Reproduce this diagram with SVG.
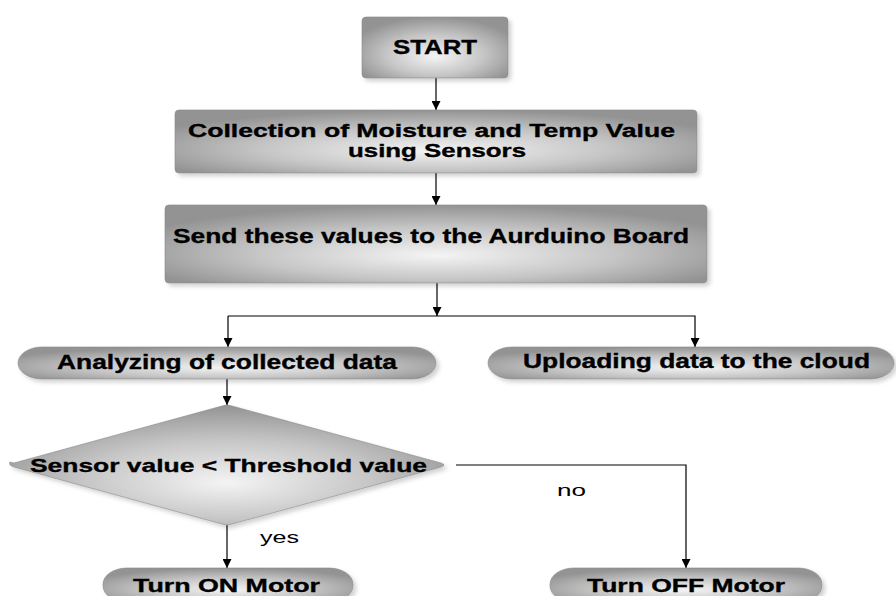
<svg xmlns="http://www.w3.org/2000/svg" width="896" height="596" viewBox="0 0 896 596">
  <defs>
    <radialGradient id="g" cx="0.5" cy="0.6" r="0.6" fx="0.5" fy="0.65">
      <stop offset="0" stop-color="#f4f4f4"/>
      <stop offset="0.55" stop-color="#c6c6c6"/>
      <stop offset="1" stop-color="#939393"/>
    </radialGradient>
    <filter id="sh" x="-5%" y="-10%" width="112%" height="130%">
      <feDropShadow dx="3" dy="3" stdDeviation="2" flood-color="#000" flood-opacity="0.18"/>
    </filter>
    <marker id="arr" viewBox="0 0 10 10" refX="10" refY="5" markerWidth="9" markerHeight="9" markerUnits="userSpaceOnUse" orient="auto">
      <path d="M0,0 L10,5 L0,10 z" fill="#000"/>
    </marker>
  </defs>
  <style>
    .box { fill: url(#g); stroke: #8a8a8a; stroke-width: 0.6; filter: url(#sh); }
    .t { font-family: "Liberation Sans", Arial, sans-serif; font-weight: bold; fill: #000; stroke: #000; stroke-width: 0.35; }
    .l { font-family: "Liberation Sans", Arial, sans-serif; fill: #000; }
    .c { fill: none; stroke: #000; stroke-width: 1.2; }
  </style>

  <g id="connectors">
    <line class="c" x1="436" y1="78" x2="436" y2="110" marker-end="url(#arr)"/>
    <line class="c" x1="436" y1="173" x2="436" y2="205" marker-end="url(#arr)"/>
    <line class="c" x1="437" y1="283" x2="437" y2="316" marker-end="url(#arr)"/>
    <polyline class="c" points="228,316 695,316 695,347" marker-end="url(#arr)"/>
    <line class="c" x1="228" y1="316" x2="228" y2="347" marker-end="url(#arr)"/>
    <line class="c" x1="227" y1="379" x2="227" y2="405" marker-end="url(#arr)"/>
    <line class="c" x1="227" y1="525" x2="227" y2="568" marker-end="url(#arr)"/>
    <polyline class="c" points="456,465 686,465 686,568" marker-end="url(#arr)"/>
    <text class="l" x="260" y="543" font-size="17" textLength="39" lengthAdjust="spacingAndGlyphs">yes</text>
    <text class="l" x="557" y="496" font-size="17" textLength="29" lengthAdjust="spacingAndGlyphs">no</text>
  </g>

  <g id="start">
    <rect class="box" x="362" y="17" width="146" height="61" rx="4"/>
    <text class="t" x="393" y="54" font-size="20" textLength="84" lengthAdjust="spacingAndGlyphs">START</text>
  </g>

  <g id="collect">
    <rect class="box" x="175" y="110" width="522" height="63" rx="4"/>
    <text class="t" x="188" y="137" font-size="18" textLength="487" lengthAdjust="spacingAndGlyphs">Collection of Moisture and Temp Value</text>
    <text class="t" x="348" y="157" font-size="18" textLength="178" lengthAdjust="spacingAndGlyphs">using Sensors</text>
  </g>

  <g id="send">
    <rect class="box" x="165" y="205" width="542" height="78" rx="4"/>
    <text class="t" x="173" y="243" font-size="21" textLength="516" lengthAdjust="spacingAndGlyphs">Send these values to the Aurduino Board</text>
  </g>

  <g id="analyze">
    <rect class="box" x="18" y="347" width="418" height="32" rx="24" ry="16"/>
    <text class="t" x="57" y="369" font-size="20" textLength="340" lengthAdjust="spacingAndGlyphs">Analyzing of collected data</text>
  </g>

  <g id="upload">
    <rect class="box" x="488" y="347" width="406" height="32" rx="24" ry="16"/>
    <text class="t" x="523" y="368" font-size="20" textLength="347" lengthAdjust="spacingAndGlyphs">Uploading data to the cloud</text>
  </g>

  <g id="decision">
    <path class="box" d="M10,462 Q8,465 14,467 L222,524 Q227,526 232,524 L441,467 Q447,465 441,463 L232,406 Q227,404 222,406 L14,463 Z"/>
    <text class="t" x="30" y="472" font-size="19" textLength="397" lengthAdjust="spacingAndGlyphs">Sensor value &lt; Threshold value</text>
  </g>

  <g id="on">
    <rect class="box" x="103" y="568" width="250" height="34" rx="24" ry="16"/>
    <text class="t" x="133" y="592" font-size="19" textLength="187" lengthAdjust="spacingAndGlyphs">Turn ON Motor</text>
  </g>

  <g id="off">
    <rect class="box" x="550" y="568" width="272" height="34" rx="24" ry="16"/>
    <text class="t" x="587" y="592" font-size="19" textLength="198" lengthAdjust="spacingAndGlyphs">Turn OFF Motor</text>
  </g>
</svg>
